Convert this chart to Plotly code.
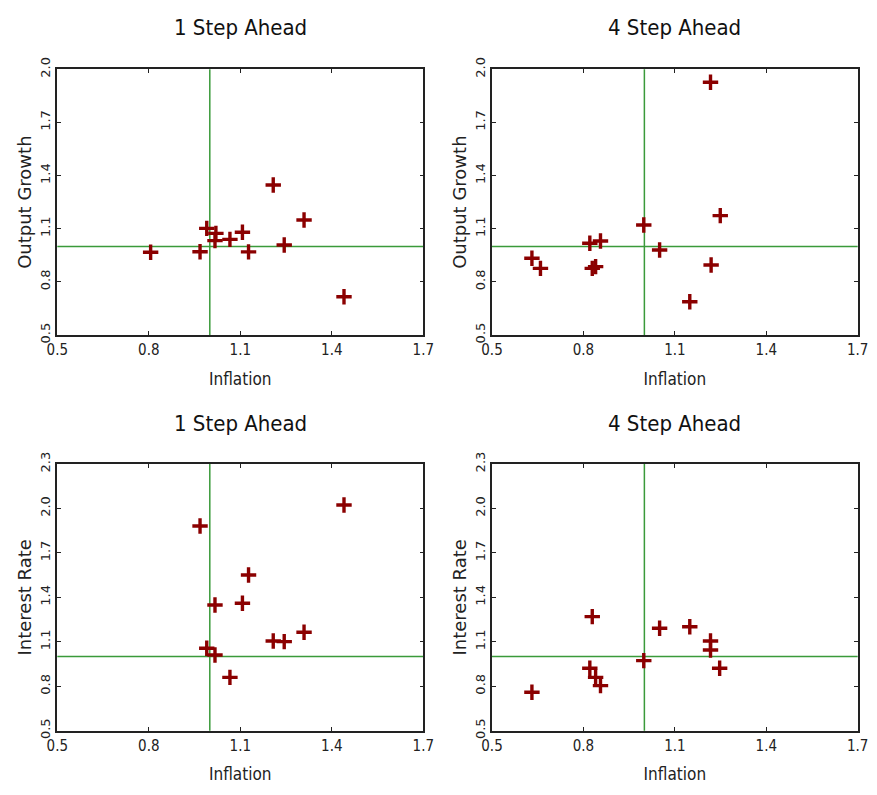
import plotly.graph_objects as go

# ---- data ----
inf_1 = [0.806, 0.968, 0.990, 1.020, 1.017, 1.066, 1.107, 1.127, 1.208, 1.244, 1.309, 1.440]
out_1 = [0.967, 0.970, 1.102, 1.074, 1.033, 1.040, 1.080, 0.969, 1.347, 1.008, 1.149, 0.716]

inf_4 = [0.631, 0.659, 0.821, 0.856, 0.829, 0.840, 0.998, 1.050, 1.217, 1.249, 1.219, 1.149]
out_4 = [0.933, 0.876, 1.018, 1.031, 0.876, 0.886, 1.121, 0.980, 1.927, 1.174, 0.895, 0.688]

inf_1r = [0.968, 1.440, 1.127, 1.107, 1.017, 1.309, 1.208, 1.244, 0.990, 1.017, 1.066]
rate_1 = [1.882, 2.023, 1.551, 1.360, 1.348, 1.164, 1.105, 1.101, 1.056, 1.011, 0.860]

inf_4r = [0.631, 0.829, 0.821, 0.840, 0.856, 0.998, 1.050, 1.149, 1.217, 1.217, 1.247]
rate_4 = [0.759, 1.270, 0.921, 0.860, 0.804, 0.973, 1.191, 1.202, 1.105, 1.045, 0.921]

ref_x = 1.0
ref_y = 1.0

x_ticks = [0.5, 0.8, 1.1, 1.4, 1.7]
y_ticks_out = [0.5, 0.8, 1.1, 1.4, 1.7, 2.0]
y_ticks_rate = [0.5, 0.8, 1.1, 1.4, 1.7, 2.0, 2.3]

titles = ["1 Step Ahead", "4 Step Ahead", "1 Step Ahead", "4 Step Ahead"]
ylabels = ["Output Growth", "Output Growth", "Interest Rate", "Interest Rate"]

FONT_H = "DejaVu Sans Condensed, DejaVu Sans"
FONT_V = "DejaVu Sans"
MARK = "#8b0000"
GREEN = "#3a9a3a"
TXT = "#222222"

panels = [
    (inf_1, out_1, [0.5, 2.0], y_ticks_out),
    (inf_4, out_4, [0.5, 2.0], y_ticks_out),
    (inf_1r, rate_1, [0.5, 2.3], y_ticks_rate),
    (inf_4r, rate_4, [0.5, 2.3], y_ticks_rate),
]

W, H = 877, 795
xdom = [[57.3 / W, 423.3 / W], [492 / W, 857.7 / W]]
ydom = [[1 - 335 / H, 1 - 69.3 / H], [1 - 730.7 / H, 1 - 464 / H]]
title_y = [1 - 28 / H, 1 - 423 / H]

fig = go.Figure()
layout = {}
annotations = []
shapes = []

for i, (xs, ys, yr, yt) in enumerate(panels):
    n = i + 1
    col = i % 2
    row = i // 2
    xa = "x" if n == 1 else f"x{n}"
    ya = "y" if n == 1 else f"y{n}"
    fig.add_trace(go.Scatter(
        x=xs, y=ys, mode="markers", xaxis=xa, yaxis=ya, showlegend=False,
        marker=dict(symbol="cross-thin", size=11, line=dict(width=3.4, color=MARK), color=MARK),
    ))
    axis_common = dict(
        showgrid=False, zeroline=False, showline=True, linecolor=TXT, linewidth=1.6,
        mirror="ticks", ticks="inside", ticklen=4, tickwidth=1, tickcolor=TXT,
        automargin=False,
    )
    layout["xaxis" if n == 1 else f"xaxis{n}"] = dict(
        axis_common, domain=xdom[col], range=[0.5, 1.7], tickvals=x_ticks,
        ticktext=[f"{v:.1f}" for v in x_ticks], anchor=ya,
        tickfont=dict(family=FONT_H, size=15, color=TXT),
        title=dict(text="Inflation", font=dict(family=FONT_H, size=17, color=TXT), standoff=15),
    )
    layout["yaxis" if n == 1 else f"yaxis{n}"] = dict(
        axis_common, domain=ydom[row], range=yr, tickvals=yt,
        ticktext=[f"{v:.1f}" for v in yt], anchor=xa, tickangle=-90,
        tickfont=dict(family=FONT_V, size=13, color=TXT),
        title=dict(text=ylabels[i], font=dict(family=FONT_V, size=18, color=TXT), standoff=2),
    )
    annotations.append(dict(
        text=titles[i], xref="paper", yref="paper", x=sum(xdom[col]) / 2, y=title_y[row],
        showarrow=False, xanchor="center", yanchor="middle",
        font=dict(family=FONT_H, size=22, color="#111111"),
    ))
    shapes.append(dict(type="line", xref=xa, yref=f"{ya} domain", x0=ref_x, x1=ref_x, y0=0, y1=1,
                       line=dict(color=GREEN, width=1.5), layer="below"))
    shapes.append(dict(type="line", xref=f"{xa} domain", yref=ya, x0=0, x1=1, y0=ref_y, y1=ref_y,
                       line=dict(color=GREEN, width=1.5), layer="below"))

fig.update_layout(
    width=W, height=H, margin=dict(l=0, r=0, t=0, b=0),
    paper_bgcolor="white", plot_bgcolor="white",
    annotations=annotations, shapes=shapes, **layout,
)

fig.write_html("out.html", config={"displayModeBar": False},
               post_script="document.body.style.margin='0';")
